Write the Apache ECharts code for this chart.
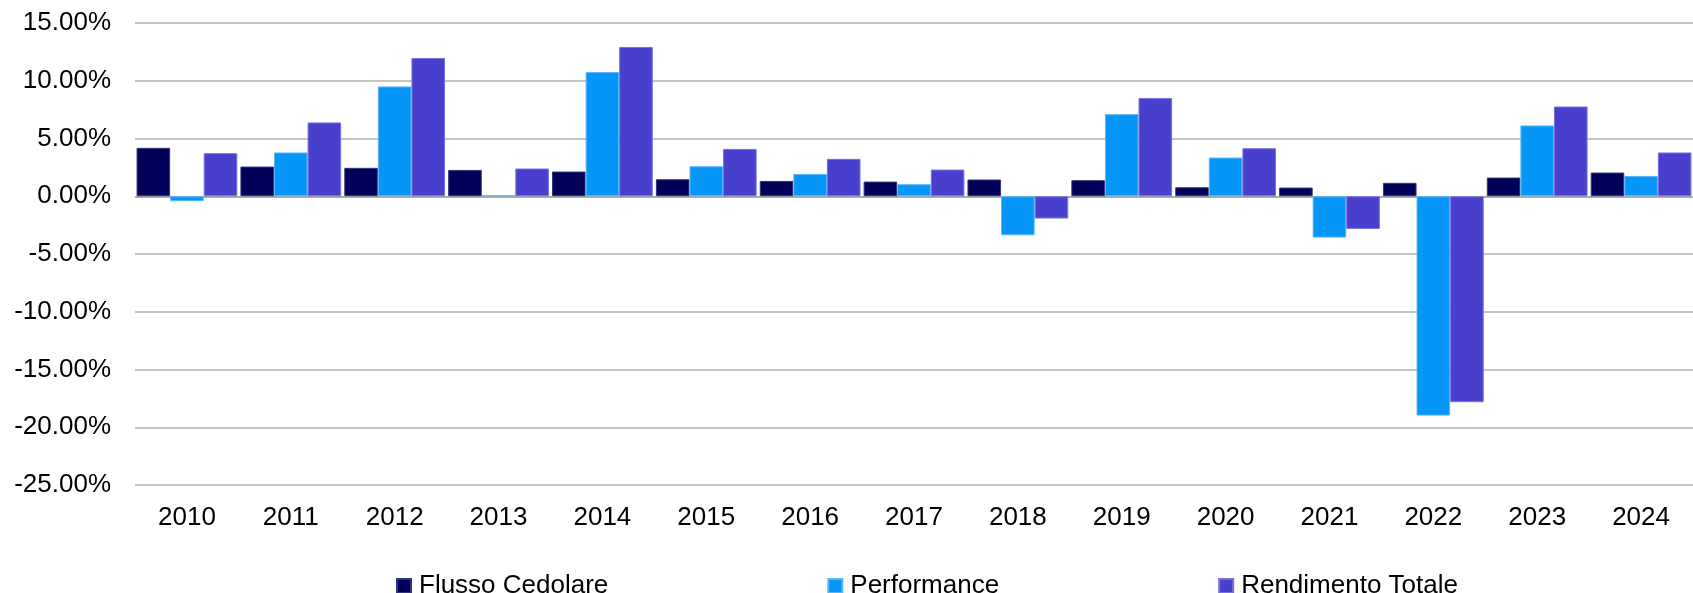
<!DOCTYPE html>
<html>
<head>
<meta charset="utf-8">
<script src="https://cdn.jsdelivr.net/npm/echarts@6/dist/echarts.min.js"></script>
<style>
  html, body { margin: 0; padding: 0; background: #fff; }
  #chart { width: 1693px; height: 593px; }
</style>
</head>
<body>
<div id="chart"></div>
<script>
// anni
var years = ['2010','2011','2012','2013','2014','2015','2016','2017','2018','2019','2020','2021','2022','2023','2024'];
// valori in %
var flussoCedolare = [4.19, 2.57, 2.46, 2.28, 2.14, 1.47, 1.33, 1.27, 1.45, 1.39, 0.78, 0.75, 1.16, 1.62, 2.05];
var performance = [-0.43, 3.79, 9.51, 0.09, 10.75, 2.60, 1.93, 1.04, -3.38, 7.11, 3.35, -3.58, -18.99, 6.13, 1.76];
var rendimentoTotale = [3.73, 6.39, 11.97, 2.40, 12.92, 4.10, 3.24, 2.31, -1.93, 8.50, 4.16, -2.83, -17.83, 7.77, 3.79];

var seriesNames = ['Flusso Cedolare', 'Performance', 'Rendimento Totale'];
var seriesColors = ['#000058', '#0696F8', '#4840CC'];
var borderColors = ['#34347a', '#5ab6fb', '#7870e0'];

var fontFam = '"Liberation Sans", Arial, sans-serif';

// griglia: la linea dello zero e' piu' scura
var gridColors = ['#b0b0b0','#b0b0b0','#b0b0b0','#b0b0b0','#b0b0b0','#909090','#b0b0b0','#b0b0b0','#b0b0b0'];

var myChart = echarts.init(document.getElementById('chart'));

var dataList = [flussoCedolare, performance, rendimentoTotale];
var series = dataList.map(function (d, i) {
  return {
    name: seriesNames[i],
    type: 'bar',
    barGap: '0%',
    barCategoryGap: '3%',
    itemStyle: { color: seriesColors[i], borderColor: borderColors[i], borderWidth: 1 },
    data: d
  };
});

myChart.setOption({
  animation: false,
  textStyle: { fontFamily: fontFam },
  legend: {
    data: seriesNames,
    left: 391,
    top: 568,
    itemWidth: 14,
    itemHeight: 14,
    itemGap: 219,
    icon: 'rect',
    textStyle: { fontSize: 26, color: '#000', fontFamily: fontFam, padding: [0, 0, 0, 3] }
  },
  grid: { left: 135, right: 0, top: 23, bottom: 108, containLabel: false },
  xAxis: {
    type: 'category',
    data: years,
    axisLine: { show: false, onZero: false },
    axisTick: { show: false },
    axisLabel: { fontSize: 26, color: '#000', margin: 20, fontFamily: fontFam }
  },
  yAxis: {
    type: 'value',
    min: -25,
    max: 15,
    interval: 5,
    axisLine: { show: false },
    axisTick: { show: false },
    splitLine: { lineStyle: { color: gridColors, width: 1.5 } },
    axisLabel: {
      fontSize: 26,
      color: '#000',
      margin: 24,
      fontFamily: fontFam,
      formatter: function (v) { return v.toFixed(2) + '%'; }
    }
  },
  series: series
});
</script>
</body>
</html>
